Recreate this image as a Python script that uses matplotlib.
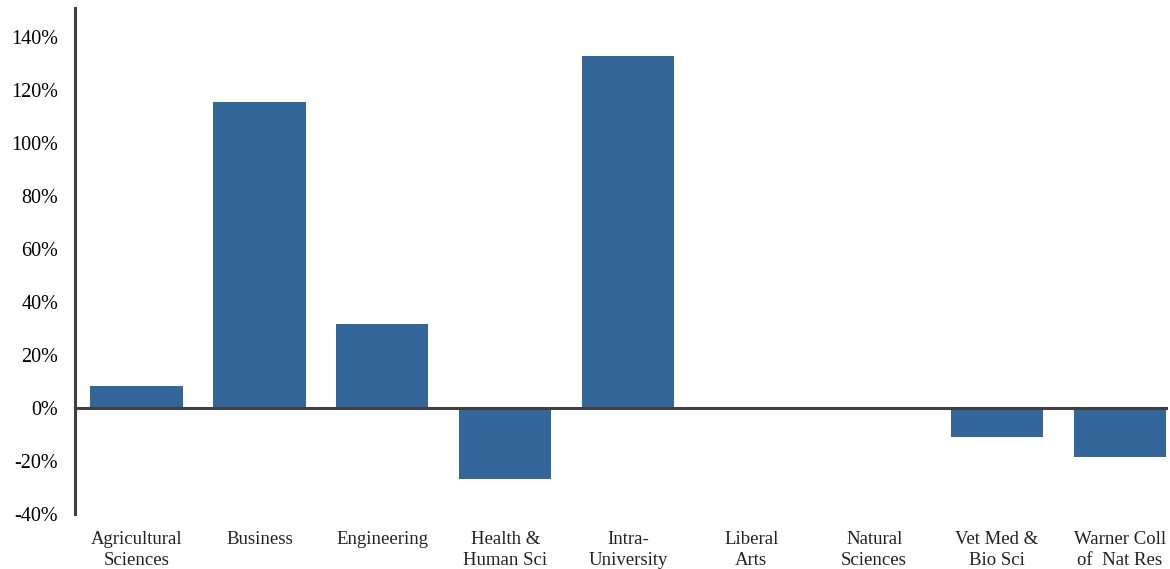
import matplotlib.pyplot as plt
from matplotlib.ticker import FuncFormatter

categories = ["Agricultural\nSciences", "Business", "Engineering", "Health &\nHuman Sci",
              "Intra-\nUniversity", "Liberal\nArts", "Natural\nSciences", "Vet Med &\nBio Sci",
              "Warner Coll\nof  Nat Res"]
values = [8.3, 115.5, 31.7, -26.8, 132.8, 0, 0, -10.9, -18.5]

plt.rcParams['font.family'] = ['Liberation Serif', 'DejaVu Serif']

fig = plt.figure(figsize=(11.7, 5.69), dpi=100)
ax = fig.add_axes([75 / 1170, 1 - 514 / 569, 1093 / 1170, 506 / 569])

x = range(len(categories))
ax.bar(x, values, width=0.75, color='#336699', zorder=2)
ax.axhline(0, color='#404040', lw=2.2, zorder=3)

ax.set_xlim(-0.5, 8.39)
ax.set_ylim(-40, 151)
ax.set_yticks(range(-40, 141, 20))
ax.yaxis.set_major_formatter(FuncFormatter(lambda v, p: f"{v:.0f}%"))
ax.set_xticks(list(x))
ax.set_xticklabels(categories, fontsize=13.5, color='#222222', linespacing=1.35)

for s in ['top', 'right', 'bottom']:
    ax.spines[s].set_visible(False)
ax.spines['left'].set_color('#404040')
ax.spines['left'].set_linewidth(2.2)
ax.tick_params(axis='both', length=0, labelsize=14.5)
ax.tick_params(axis='x', labelsize=13.5, pad=12)
ax.tick_params(axis='y', pad=12)

fig.savefig("out.png", dpi=100)
